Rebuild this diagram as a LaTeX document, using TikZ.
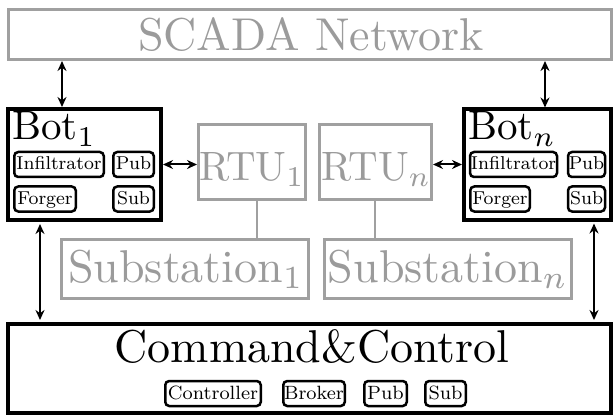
\documentclass[tikz,border=0pt]{standalone}
\usetikzlibrary{arrows.meta,calc}
\definecolor{scgray}{RGB}{160,160,160}
\definecolor{sctext}{RGB}{155,155,155}
\newcommand{\sctxt}[2]{\scalebox{#1}{\fontsize{10}{12}\selectfont #2}}
\newcommand{\smtxt}[2]{\scalebox{#1}{\fontsize{8}{10}\selectfont #2}}
\tikzset{
  graybox/.style={draw=scgray,line width=3pt,inner sep=0pt,text=sctext},
  blackbox/.style={draw=black,line width=4pt,inner sep=0pt},
  part/.style={draw=black,line width=2.5pt,rounded corners=4pt,inner sep=0pt,
    text height=13.5pt,text depth=2.5pt,minimum height=25pt},
  arr/.style={line width=2pt,{Stealth[length=10pt,width=9pt]}-{Stealth[length=10pt,width=9pt]}},
  wire/.style={draw=scgray,line width=2.5pt}
}
\begin{document}
\begin{tikzpicture}[x=1pt,y=-1pt]
\useasboundingbox (0,0) rectangle (616,417);
% SCADA
\node[graybox,minimum width=603pt,minimum height=50pt] (scada) at (310,34.5) {};
\node[anchor=base,inner sep=0pt,text=sctext] (scadat) at (311,51) {\sctxt{4.6}{SCADA Network}};
% Bots
\node[blackbox,minimum width=153pt,minimum height=111pt] (bot1) at (84.5,164.5) {};
\node[anchor=base west,inner sep=0pt] (bot1t) at (12,140) {\sctxt{4.1}{Bot$_1$}};
\node[part,minimum width=89.5pt] (inf1) at (59,164.5) {\smtxt{2.33}{Infiltrator}};
\node[part,minimum width=40.5pt] (pub1) at (133.5,164.5) {\smtxt{2.33}{Pub}};
\node[part,minimum width=61.5pt] (for1) at (45,199) {\smtxt{2.33}{Forger}};
\node[part,minimum width=40.5pt] (sub1) at (133.5,199) {\smtxt{2.33}{Sub}};

\node[blackbox,minimum width=147pt,minimum height=110pt] (botn) at (537.5,164.5) {};
\node[anchor=base west,inner sep=0pt] (botnt) at (468,140) {\sctxt{4.1}{Bot$_n$}};
\node[part,minimum width=87pt] (infn) at (513.5,164.5) {\smtxt{2.33}{Infiltrator}};
\node[part,minimum width=37pt] (pubn) at (586.5,164.5) {\smtxt{2.33}{Pub}};
\node[part,minimum width=59.5pt] (forn) at (500,199) {\smtxt{2.33}{Forger}};
\node[part,minimum width=37pt] (subn) at (586.5,199) {\smtxt{2.33}{Sub}};
% RTUs
\node[graybox,minimum width=107pt,minimum height=75pt] (rtu1) at (252,162) {};
\node[anchor=base,inner sep=0pt,text=sctext] (rtu1t) at (252,180) {\sctxt{4.1}{RTU$_1$}};
\node[graybox,minimum width=112pt,minimum height=75pt] (rtun) at (375.5,162) {};
\node[anchor=base,inner sep=0pt,text=sctext] (rtunt) at (376.5,180) {\sctxt{4.1}{RTU$_n$}};
% Substations
\node[graybox,minimum width=247pt,minimum height=59pt] (st1) at (185,269) {};
\node[anchor=base,inner sep=0pt,text=sctext] (st1t) at (186,282) {\sctxt{4.6}{Substation$_1$}};
\node[graybox,minimum width=247pt,minimum height=59pt] (stn) at (448,269) {};
\node[anchor=base,inner sep=0pt,text=sctext] (stnt) at (448,282) {\sctxt{4.6}{Substation$_n$}};
% C&C
\node[blackbox,minimum width=603pt,minimum height=89pt] (cc) at (309.5,368.5) {};
\node[anchor=base,inner sep=0pt] (cct) at (312,362) {\sctxt{4.6}{Command\&Control}};
\node[part,minimum width=95.5pt] (ctrl) at (213,393.5) {\smtxt{2.4}{Controller}};
\node[part,minimum width=61.5pt] (brok) at (314,393.5) {\smtxt{2.4}{Broker}};
\node[part,minimum width=42.5pt] (ccpub) at (385.5,393.5) {\smtxt{2.4}{Pub}};
\node[part,minimum width=40.5pt] (ccsub) at (445.5,393.5) {\smtxt{2.4}{Sub}};
% coordinates for connector columns
\coordinate (cL) at (62,0);
\coordinate (cR) at (545,0);
\coordinate (dL) at (40,0);
\coordinate (dR) at (594,0);
\coordinate (w1) at (257,0);
\coordinate (wn) at (375,0);
% connectors
\draw[arr] (scada.south -| cL) -- (bot1.north -| cL);
\draw[arr] (scada.south -| cR) -- (botn.north -| cR);
\draw[arr] (bot1.east) -- (rtu1.west |- bot1.east);
\draw[arr] (rtun.east |- botn.west) -- (botn.west);
\draw[arr] ([yshift=-2pt]bot1.south -| dL) -- ([yshift=2pt]cc.north -| dL);
\draw[arr] ([yshift=-2pt]botn.south -| dR) -- ([yshift=2pt]cc.north -| dR);
\draw[wire] (rtu1.south -| w1) -- (st1.north -| w1);
\draw[wire] (rtun.south -| wn) -- (stn.north -| wn);
\end{tikzpicture}
\end{document}
